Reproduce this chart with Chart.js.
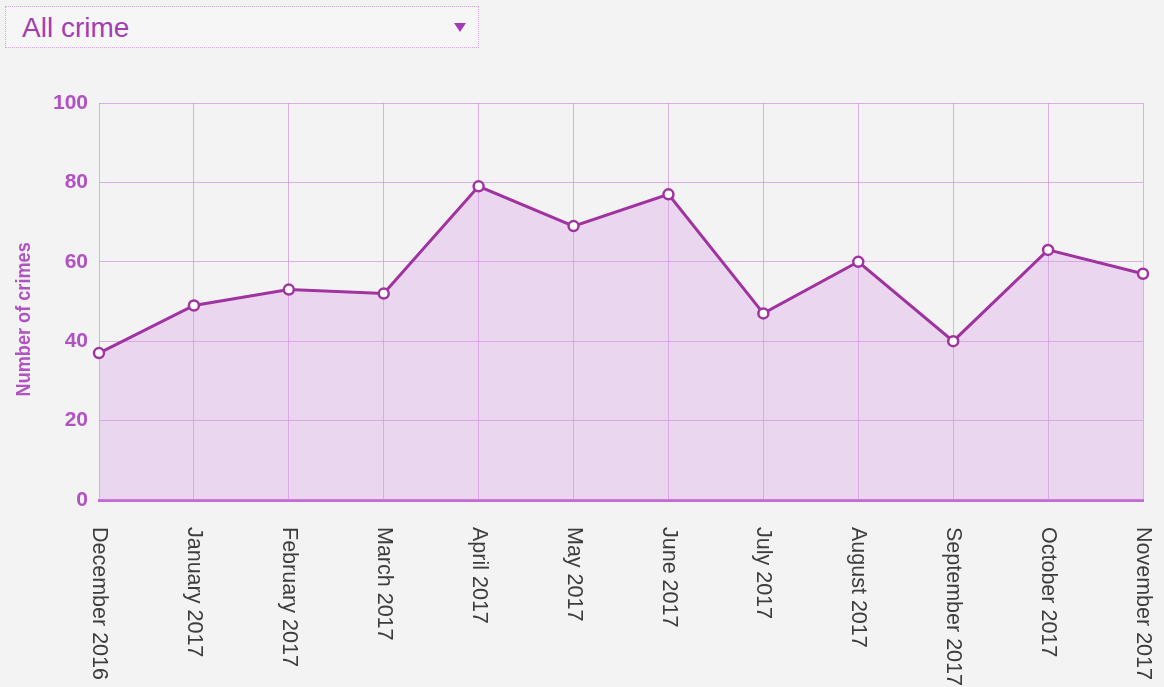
<!DOCTYPE html>
<html>
<head>
<meta charset="utf-8">
<script src="https://cdn.jsdelivr.net/npm/chart.js@4.4.1/dist/chart.umd.min.js"></script>
<style>
    html, body { margin: 0; padding: 0; background: #f4f3f4; }
    #wrap { position: relative; width: 1164px; height: 687px; overflow: hidden; }
    #picker {
        position: absolute; left: 5px; top: 6px; width: 474px; height: 42px;
        border: 1px dotted #d7a3df; background: #f7f6f7;
        font-family: 'Liberation Sans', Arial, sans-serif; font-size: 28px; color: #a23db3;
        box-sizing: border-box;
    }
    #picker span { position: absolute; left: 16px; top: 5px; }
    #picker i { position: absolute; right: 12px; top: 16px; width: 0; height: 0;
        border-left: 6px solid transparent; border-right: 6px solid transparent; border-top: 9px solid #a23db3; }
    canvas { position: absolute; left: 0; top: 0; }
</style>
</head>
<body>
<div id="wrap">
    <canvas id="crimeChart" width="1164" height="687"></canvas>
    <div id="picker"><span>All crime</span><i></i></div>
</div>
<script>
// Months shown on the x axis
const months = ['December 2016', 'January 2017', 'February 2017', 'March 2017', 'April 2017', 'May 2017',
    'June 2017', 'July 2017', 'August 2017', 'September 2017', 'October 2017', 'November 2017'];
// Crimes recorded each month
const crimeCounts = [37, 49, 53, 52, 79, 69, 77, 47, 60, 40, 63, 57];
const yTicks = [0, 20, 40, 60, 80, 100];
const yTitle = 'Number of crimes';

const purple = '#a0339f';
const gridPurple = 'rgba(205, 140, 220, 0.65)';

// x labels read top-to-bottom (rotated clockwise), and the narrow y title, drawn by hand
const extraText = {
    id: 'extraText',
    afterDraw(chart) {
        const ctx = chart.ctx;
        const xs = chart.scales.x;
        ctx.save();
        ctx.font = "21.5px 'Liberation Sans', Arial, sans-serif";
        ctx.fillStyle = '#3d3d3d';
        ctx.textAlign = 'left';
        ctx.textBaseline = 'middle';
        months.forEach((m, i) => {
            const x = xs.getPixelForValue(i);
            ctx.save();
            ctx.translate(x, chart.chartArea.bottom + 27);
            ctx.rotate(Math.PI / 2);
            ctx.fillText(m, 0, 0);
            ctx.restore();
        });

        // y axis title, condensed bold look
        ctx.save();
        ctx.translate(25, chart.scales.y.getPixelForValue(45.5));
        ctx.rotate(-Math.PI / 2);
        ctx.scale(0.93, 1);
        ctx.font = "bold 19.5px 'Liberation Sans', Arial, sans-serif";
        ctx.fillStyle = '#b052c2';
        ctx.textAlign = 'center';
        ctx.fillText(yTitle, 0, 0);
        ctx.restore();
        ctx.restore();
    }
};

const ctx = document.getElementById('crimeChart').getContext('2d');
new Chart(ctx, {
    type: 'line',
    data: {
        labels: months,
        datasets: [{
            label: 'All crime',
            data: crimeCounts,
            fill: true,
            backgroundColor: 'rgba(218, 155, 232, 0.33)',
            borderColor: purple,
            borderWidth: 3,
            tension: 0,
            pointRadius: 5,
            pointBorderWidth: 2.5,
            pointBackgroundColor: '#ffffff',
            pointBorderColor: purple
        }]
    },
    options: {
        responsive: false,
        animation: false,
        layout: { padding: { top: 103, right: 21, left: 0, bottom: 0 } },
        plugins: { legend: { display: false }, tooltip: { enabled: false } },
        scales: {
            x: {
                offset: false,
                ticks: { display: false },
                grid: { color: gridPurple, lineWidth: 1, drawTicks: false },
                border: { color: '#c46ad2', width: 3 },
                afterFit: s => { s.height = 187; }
            },
            y: {
                min: 0,
                max: 100,
                afterBuildTicks: s => { s.ticks = yTicks.map(v => ({ value: v })); },
                ticks: {
                    color: '#b052c2',
                    padding: 11,
                    font: { family: "'Liberation Sans', Arial, sans-serif", size: 21, weight: 'bold' }
                },
                grid: { color: gridPurple, lineWidth: 1, drawTicks: false },
                border: { display: false },
                afterFit: s => { s.width = 99; }
            }
        }
    },
    plugins: [extraText]
});
</script>
</body>
</html>
